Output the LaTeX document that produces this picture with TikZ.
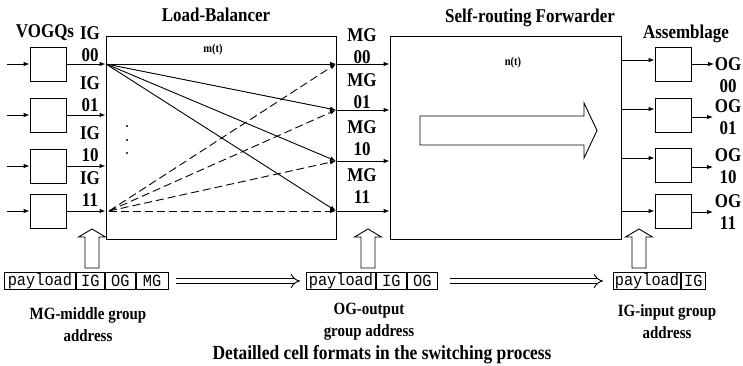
\documentclass[tikz,border=0pt]{standalone}
\usepackage{fontspec}
\setmainfont{Liberation Serif}[FakeStretch=0.87]
\newfontfamily\monof{Liberation Mono}[FakeStretch=0.9]
\usetikzlibrary{arrows.meta}
\begin{document}
\begin{tikzpicture}[x=1pt,y=-1pt,line width=0.9pt,
  arr/.style={-{Latex[length=6pt,width=4.5pt]}},
  qbox/.style={draw, minimum width=36pt, minimum height=34pt, inner sep=0pt},
  bigbox/.style={draw, minimum width=230pt, minimum height=203pt, inner sep=0pt},
  lab/.style={font=\bfseries\fontsize{19.5}{21.5}\selectfont, align=center, inner sep=0pt},
  ttl/.style={font=\bfseries\fontsize{19.5}{21.5}\selectfont, inner sep=0pt},
  small/.style={font=\bfseries\fontsize{12}{12}\selectfont, inner sep=0pt},
  capt/.style={font=\bfseries\fontsize{17.2}{22}\selectfont, align=center, inner sep=0pt},
  cell/.style={draw, font=\monof\fontsize{17}{17}\selectfont, minimum height=17pt, inner sep=0pt, anchor=west},
  dsh/.style={dash pattern=on 8pt off 4pt},
  dbl/.style={double, double distance=4pt, -{Implies}},
  uparr/.pic={\draw (-7,39) -- (-7,8) -- (-13.5,8) -- (0,0) -- (13.5,8) -- (7,8) -- (7,39) -- cycle;}
]
\useasboundingbox (0,0) rectangle (743,366);

% main boxes
\node[bigbox] (lb) at (221,137.5) {};
\node[bigbox, minimum width=231pt] (srf) at (505.5,137.5) {};

% titles
\node[ttl] (tlb) at (216,15) {Load-Balancer};
\node[ttl] (tsrf) at (530,18) {Self-routing Forwarder};
\node[ttl] (tvq) at (45,33) {VOGQs};
\node[ttl] (tas) at (686,34) {Assemblage};
\node[small] (mt) at (213,50) {m(t)};
\node[small] (nt) at (513,63) {n(t)};

% VOGQ boxes
\node[qbox] (q0) at (48,64) {};
\node[qbox] (q1) at (48,115) {};
\node[qbox] (q2) at (48,166) {};
\node[qbox] (q3) at (48,211) {};
\coordinate (i0) at (7,64);
\coordinate (i1) at (7,115);
\coordinate (i2) at (7,166);
\coordinate (i3) at (7,211);
\foreach \k in {0,1,2,3} {
  \draw[arr] (i\k) -- (q\k);
  \draw[arr] (q\k) -- (lb.west |- q\k);
}

% IG labels
\node[lab] (ig0) at (90,44) {IG\\00};
\node[lab] (ig1) at (90,94) {IG\\01};
\node[lab] (ig2) at (90,144) {IG\\10};
\node[lab] (ig3) at (90,189) {IG\\11};

% dots
\fill (127,126) circle (1.1);
\fill (127,140) circle (1.1);
\fill (127,153) circle (1.1);

% fan in load balancer
\coordinate (f0) at (106,64);
\coordinate (f3) at (109,211);
\coordinate (m0) at (336,64);
\coordinate (m1) at (336,110);
\coordinate (m2) at (336,161);
\coordinate (m3) at (336,211);
\foreach \k in {0,1,2,3} {
  \draw[arr] (f0) -- (m\k);
  \draw[arr,dsh] (f3) -- (m\k);
  \draw[arr] (m\k) -- (srf.west |- m\k);
}

% MG labels
\node[lab] (mg0) at (362,46) {MG\\00};
\node[lab] (mg1) at (362,91) {MG\\01};
\node[lab] (mg2) at (362,138) {MG\\10};
\node[lab] (mg3) at (362,186) {MG\\11};

% big hollow arrow
\draw (420,116) -- (584,116) -- (584,103) -- (597,130.5) -- (584,158) -- (584,145) -- (420,145) -- cycle;

% assemblage boxes
\node[qbox] (a0) at (673,64.5) {};
\node[qbox] (a1) at (673,115) {};
\node[qbox] (a2) at (673,165) {};
\node[qbox] (a3) at (673,211) {};
\coordinate (s0) at (621,60);
\coordinate (s1) at (621,109);
\coordinate (s2) at (621,158);
\coordinate (s3) at (621,211);
\coordinate (e0) at (714,64);
\coordinate (e1) at (713,117);
\coordinate (e2) at (713,167);
\coordinate (e3) at (713,212);
\foreach \k in {0,1,2,3} {
  \draw[arr] (s\k) -- (a\k.west |- s\k);
  \draw[arr] (a\k.east |- e\k) -- (e\k);
}

% OG labels
\node[lab] (og0) at (728,75) {OG\\00};
\node[lab] (og1) at (728,117) {OG\\01};
\node[lab] (og2) at (728,166) {OG\\10};
\node[lab] (og3) at (728,212) {OG\\11};

% up arrows
\pic at (92,229) {uparr};
\pic at (368,229) {uparr};
\pic at (639,229) {uparr};

% cell formats
\node[cell, minimum width=71pt] (c1p) at (4,281) {payload};
\node[cell, minimum width=28pt] (c1i) at (c1p.east) {IG};
\node[cell, minimum width=30pt] (c1o) at (c1i.east) {OG};
\node[cell, minimum width=32pt] (c1m) at (c1o.east) {MG};

\node[cell, minimum width=69pt] (c2p) at (306,281) {payload};
\node[cell, minimum width=30pt] (c2i) at (c2p.east) {IG};
\node[cell, minimum width=30pt] (c2o) at (c2i.east) {OG};

\node[cell, minimum width=67pt] (c3p) at (613,281) {payload};
\node[cell, minimum width=24pt] (c3i) at (c3p.east) {IG};

\draw[dbl, shorten <=7pt, shorten >=6pt] (c1m) -- (c2p);
\draw[dbl, shorten <=12pt, shorten >=10pt] (c2o) -- (c3p);

% captions
\node[capt] (cap1) at (88,325) {MG-middle group\\address};
\node[capt] (cap2) at (369,322) {OG-output\\group address};
\node[capt] (cap3) at (667,322) {IG-input group\\address};
\node[font=\bfseries\fontsize{20}{22}\selectfont, inner sep=0pt] (cap4) at (382,355) {Detailled cell formats in the switching process};
\end{tikzpicture}
\end{document}
